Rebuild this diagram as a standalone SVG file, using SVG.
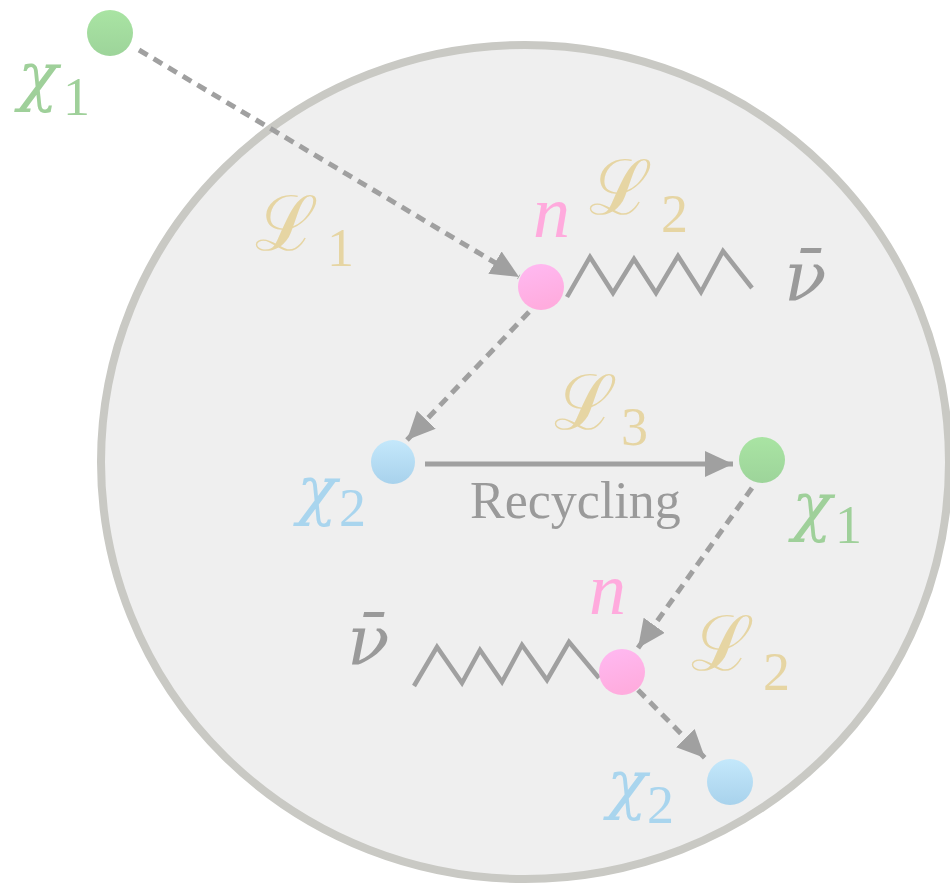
<svg xmlns="http://www.w3.org/2000/svg" width="950" height="883" viewBox="0 0 950 883">
<defs>
<linearGradient id="gG" x1="0" y1="0" x2="0" y2="1"><stop offset="0" stop-color="#a9e4a3"/><stop offset="1" stop-color="#9dd49a"/></linearGradient>
<linearGradient id="gP" x1="0" y1="0" x2="0.3" y2="1"><stop offset="0" stop-color="#ffb9f2"/><stop offset="1" stop-color="#ffacde"/></linearGradient>
<linearGradient id="gB" x1="0" y1="0" x2="0" y2="1"><stop offset="0" stop-color="#c4e8fb"/><stop offset="1" stop-color="#a8d2ec"/></linearGradient>
<marker id="ah" markerUnits="userSpaceOnUse" markerWidth="28" markerHeight="26" refX="28" refY="13" orient="auto"><path d="M0,0 L28,13 L0,26 z" fill="#a0a0a0"/></marker>
<style>
.dash{fill:none;stroke:#a0a0a0;stroke-width:5;stroke-dasharray:10 7}
.solid{fill:none;stroke:#a0a0a0;stroke-width:5}
.zig{fill:none;stroke:#a0a0a0;stroke-width:4.5;stroke-linejoin:miter}
.m{font-family:"DejaVu Serif","Liberation Serif",serif;font-style:italic;font-size:66px}
.n{font-family:"Liberation Serif","Times New Roman",serif;font-style:italic;font-size:74px}
.nu{font-family:"DejaVu Serif","Liberation Serif",serif;font-style:italic;font-size:70px}
.s{font-family:"Liberation Serif","Times New Roman",serif;font-size:54px}
.L{font-family:"DejaVu Serif","Noto Sans",serif;font-style:italic;font-size:76px;fill:#e6d5a3}
.Ls{font-family:"Liberation Serif","Times New Roman",serif;font-size:54px;fill:#e6d5a3}
.green{fill:#9fd09a}.pink{fill:#ffaadd}.blue{fill:#a9d5ee}.gray{fill:#9a9a9a}
</style>
</defs>
<ellipse cx="525" cy="462" rx="424" ry="417" fill="#efefef" stroke="#c9c9c4" stroke-width="8"/>
<g id="connectors">
<path class="dash" d="M139,50 L519,277" marker-end="url(#ah)"/>
<path class="dash" d="M529,312 L407,440" marker-end="url(#ah)"/>
<path class="solid" d="M425,464 L733,464" marker-end="url(#ah)"/>
<path class="dash" d="M752,488 L638,648" marker-end="url(#ah)"/>
<path class="dash" d="M638,690 L705,758" marker-end="url(#ah)"/>
<polyline class="zig" points="567,297 590,257 613,293 634,259 656,293 678,256 701,292 723,251 752,288"/>
<polyline class="zig" points="414,686 437,647 462,683 480,650 502,682 522,645 547,680 569,642 599,678"/>
</g>
<g id="chi1-top"><circle cx="110" cy="33" r="23" fill="url(#gG)"/>
<text class="m green" x="18" y="98">χ</text><text class="s green" x="63" y="115">1</text></g>
<g id="n-top"><circle cx="541" cy="287" r="23" fill="url(#gP)"/>
<text class="n pink" x="533" y="237">n</text></g>
<g id="chi2-mid"><circle cx="393" cy="462" r="22" fill="url(#gB)"/>
<text class="m blue" x="297" y="512">χ</text><text class="s blue" x="339" y="526">2</text></g>
<g id="chi1-right"><circle cx="762" cy="460" r="23" fill="url(#gG)"/>
<text class="m green" x="792" y="528">χ</text><text class="s green" x="835" y="543">1</text></g>
<g id="n-bottom"><circle cx="622" cy="672" r="23" fill="url(#gP)"/>
<text class="n pink" x="589" y="614">n</text></g>
<g id="chi2-bottom"><circle cx="730" cy="782" r="23" fill="url(#gB)"/>
<text class="m blue" x="607" y="806">χ</text><text class="s blue" x="647" y="823">2</text></g>
<g id="labels">
<text class="L" x="255" y="250">ℒ</text><text class="Ls" x="327" y="266">1</text>
<text class="L" x="589" y="214">ℒ</text><text class="Ls" x="661" y="232">2</text>
<text class="L" x="554" y="429">ℒ</text><text class="Ls" x="621" y="445">3</text>
<text class="L" x="691" y="670">ℒ</text><text class="Ls" x="763" y="690">2</text>
<text class="nu gray" x="784" y="300">ν̄</text>
<text class="nu gray" x="347" y="664">ν̄</text>
<text x="470" y="518" style="font-family:'Liberation Serif','Times New Roman',serif;font-size:52px;fill:#9a9a9a">Recycling</text>
</g>
</svg>
